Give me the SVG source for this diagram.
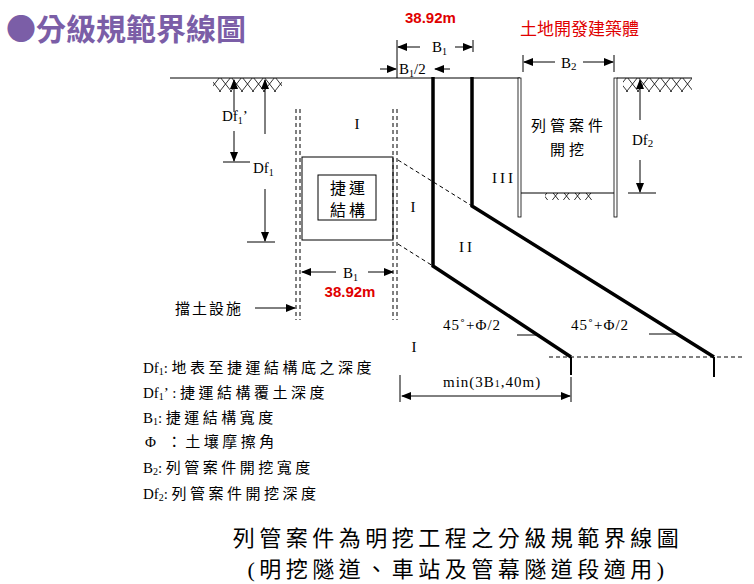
<svg xmlns="http://www.w3.org/2000/svg" width="754" height="584" viewBox="0 0 754 584">
<defs>
<marker id="ah" markerWidth="10" markerHeight="8" refX="9" refY="4" orient="auto" markerUnits="userSpaceOnUse"><path d="M0,0 L10,4 L0,8 Z" fill="#000"/></marker>
<pattern id="hatch" width="11" height="14" patternUnits="userSpaceOnUse"><path d="M0,7 L5.5,0 L11,7 L5.5,14 Z" fill="none" stroke="#000" stroke-width="0.8"/></pattern>
</defs>
<style>
.t{font-family:"Liberation Serif","Noto Sans CJK TC",serif;fill:#000;font-size:15px}
.r{font-family:"Liberation Sans",sans-serif;fill:#e00000;font-weight:bold;font-size:15px}
.th{stroke:#000;stroke-width:1;fill:none}
.dim{stroke:#000;stroke-width:1;fill:none;marker-end:url(#ah)}
.dash{stroke:#000;stroke-width:1;fill:none;stroke-dasharray:4,3}
.bold{stroke:#000;stroke-width:3.5;fill:none}
.lg{letter-spacing:3.5px}
</style>
<rect width="754" height="584" fill="#fff"/>
<g id="title"><text x="6" y="40" font-family="'Noto Sans CJK TC',sans-serif" font-weight="bold" font-size="30" fill="#7b5ea7">●分級規範界線圖</text></g>
<text class="r" x="405" y="23">38.92m</text>
<text x="520" y="35" font-family="'Noto Sans CJK TC',sans-serif" font-size="17" fill="#e00000">土地開發建築體</text>
<g id="ground">
<line class="th" x1="170" y1="78" x2="520" y2="78"/>
<line class="th" x1="617" y1="78" x2="692" y2="78"/>
<rect x="213" y="78" width="69" height="14" fill="url(#hatch)"/>
<rect x="623" y="78" width="69" height="14" fill="url(#hatch)"/>
</g>
<g id="mrt-structure">
<line class="dash" x1="296" y1="109" x2="296" y2="320"/><line class="dash" x1="300" y1="109" x2="300" y2="320"/>
<line class="dash" x1="393" y1="109" x2="393" y2="320"/><line class="dash" x1="397" y1="109" x2="397" y2="320"/>
<rect x="302" y="157" width="91" height="83" class="th" stroke="#555"/>
<rect x="318" y="175" width="58" height="45" class="th" stroke="#555"/>
<text class="t" x="349" y="194" text-anchor="middle" style="font-size:16px;letter-spacing:3px">捷運</text>
<text class="t" x="349" y="216" text-anchor="middle" style="font-size:16px;letter-spacing:3px">結構</text>
</g>
<g id="pit">
<rect x="518" y="78" width="3" height="139" fill="#fff" stroke="#000" stroke-width="0.8"/>
<rect x="614" y="78" width="3" height="139" fill="#fff" stroke="#000" stroke-width="0.8"/>
<line class="th" x1="521" y1="193" x2="614" y2="193"/>
<rect x="545" y="193" width="47" height="7" fill="url(#hatch)"/>
<text class="t" x="569" y="131" text-anchor="middle" style="letter-spacing:4px">列管案件</text>
<text class="t" x="569" y="155" text-anchor="middle" style="letter-spacing:4px">開挖</text>
</g>
<g id="connectors">
<path class="bold" d="M433,77 L433,266 L571,357"/>
<path class="bold" d="M472,77 L472,206 L714,357"/>
<line class="dash" x1="398" y1="160" x2="472" y2="206"/>
<line class="dash" x1="398" y1="244" x2="433" y2="266"/>
<line class="dash" x1="549" y1="357" x2="742" y2="357"/>
<line x1="571" y1="357" x2="571" y2="375" stroke="#000" stroke-width="2"/>
<line x1="714" y1="357" x2="714" y2="377" stroke="#000" stroke-width="2"/>
<line class="th" x1="517" y1="335" x2="540" y2="335"/>
<line class="th" x1="649" y1="334" x2="677" y2="334"/>
<line class="th" x1="571" y1="377" x2="571" y2="402"/>
<line class="th" x1="400" y1="375" x2="400" y2="402"/>
<line class="dim" x1="485" y1="396" x2="402" y2="396"/>
<line class="dim" x1="485" y1="396" x2="570" y2="396"/>
<line class="dim" x1="234" y1="112" x2="234" y2="80"/>
<line class="dim" x1="234" y1="131" x2="234" y2="161"/>
<line class="th" x1="223" y1="162" x2="250" y2="162"/>
<line class="dim" x1="265" y1="134" x2="265" y2="80"/>
<line class="dim" x1="265" y1="189" x2="265" y2="241"/>
<line class="th" x1="247" y1="242" x2="275" y2="242"/>
<line class="dim" x1="336" y1="272" x2="302" y2="272"/>
<line class="dim" x1="368" y1="272" x2="393" y2="272"/>
<line class="dim" x1="255" y1="308" x2="295" y2="308"/>
<line class="th" x1="397" y1="40" x2="397" y2="78"/>
<line class="th" x1="473" y1="40" x2="473" y2="52"/>
<line class="dim" x1="420" y1="47" x2="398" y2="47"/>
<line class="dim" x1="455" y1="47" x2="472" y2="47"/>
<line class="dim" x1="380" y1="69" x2="396" y2="69"/>
<line class="dim" x1="450" y1="69" x2="435" y2="69"/>
<line class="th" x1="523" y1="55" x2="523" y2="72"/>
<line class="th" x1="614" y1="55" x2="614" y2="72"/>
<line class="dim" x1="555" y1="62" x2="524" y2="62"/>
<line class="dim" x1="583" y1="62" x2="613" y2="62"/>
<line class="dim" x1="640" y1="120" x2="640" y2="80"/>
<line class="dim" x1="640" y1="160" x2="640" y2="192"/>
<line class="th" x1="628" y1="193" x2="656" y2="193"/>
</g>
<g id="labels">
<text class="t" x="357" y="129" text-anchor="middle">I</text>
<text class="t" x="413" y="212" text-anchor="middle">I</text>
<text class="t" x="504" y="183" text-anchor="middle" letter-spacing="3">III</text>
<text class="t" x="467" y="252" text-anchor="middle" letter-spacing="3">II</text>
<text class="t" x="414" y="352" text-anchor="middle">I</text>
<text class="t" x="222" y="121">Df<tspan font-size="10" dy="3">1</tspan><tspan dy="-3">’</tspan></text>
<text class="t" x="253" y="173">Df<tspan font-size="10" dy="3">1</tspan></text>
<text class="t" x="343" y="278">B<tspan font-size="10" dy="3">1</tspan></text>
<text class="r" x="350" y="297" text-anchor="middle">38.92m</text>
<text class="t" x="175" y="314" style="letter-spacing:2px">擋土設施</text>
<text class="t" x="432" y="52">B<tspan font-size="10" dy="3">1</tspan></text>
<text class="t" x="399" y="74">B<tspan font-size="10" dy="3">1</tspan><tspan dy="-3">/2</tspan></text>
<text class="t" x="561" y="68">B<tspan font-size="11" dy="2">2</tspan></text>
<text class="t" x="632" y="145">Df<tspan font-size="11" dy="2">2</tspan></text>
<text class="t" x="443" y="330" style="letter-spacing:1px">45˚+Φ/2</text>
<text class="t" x="571" y="330" style="letter-spacing:1px">45˚+Φ/2</text>
<text class="t" x="443" y="387" style="letter-spacing:1px">min(3B<tspan font-size="10">1</tspan>,40m)</text>
</g>
<g id="legend">
<text class="t" x="143" y="373">Df<tspan font-size="10" dy="2">1</tspan><tspan dy="-2" class="lg">:地表至捷運結構底之深度</tspan></text>
<text class="t" x="143" y="398">Df<tspan font-size="10" dy="2">1</tspan><tspan dy="-2" class="lg">’:捷運結構覆土深度</tspan></text>
<text class="t" x="143" y="423">B<tspan font-size="10" dy="2">1</tspan><tspan dy="-2" class="lg">:捷運結構寬度</tspan></text>
<text class="t lg" x="145" y="447">Φ ：土壤摩擦角</text>
<text class="t" x="143" y="473">B<tspan font-size="10" dy="2">2</tspan><tspan dy="-2" class="lg">:列管案件開挖寬度</tspan></text>
<text class="t" x="143" y="499">Df<tspan font-size="10" dy="2">2</tspan><tspan dy="-2" class="lg">:列管案件開挖深度</tspan></text>
</g>
<g id="caption">
<text class="t" x="458" y="546" text-anchor="middle" style="font-size:22px;letter-spacing:4.5px">列管案件為明挖工程之分級規範界線圖</text>
<text class="t" x="458" y="577" text-anchor="middle" style="font-size:22px;letter-spacing:4.5px">(明挖隧道、車站及管幕隧道段適用)</text>
</g>
</svg>
